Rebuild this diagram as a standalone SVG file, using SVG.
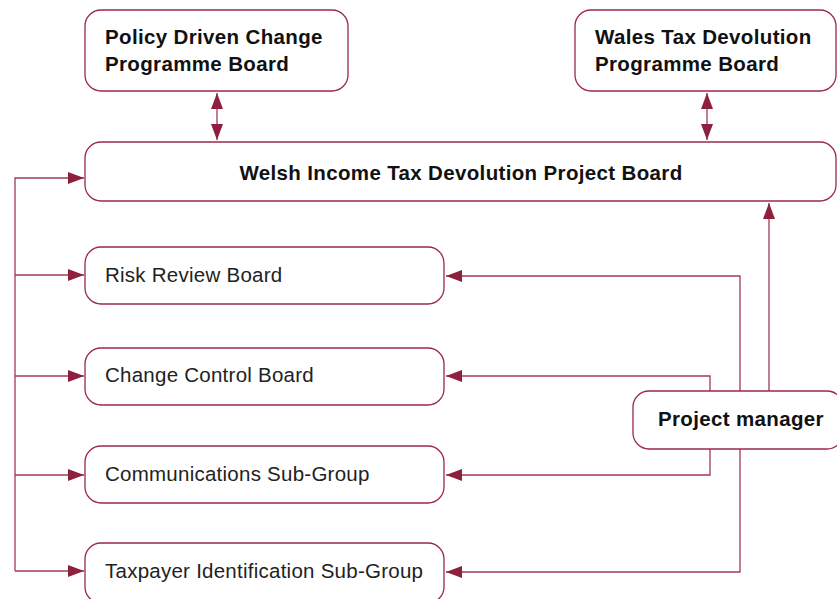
<svg xmlns="http://www.w3.org/2000/svg" width="837" height="599" viewBox="0 0 837 599">
<style>
.box{fill:#fff;stroke:#9a2a48;stroke-width:1.3}
.ln{fill:none;stroke:#a23a56;stroke-width:1.3}
.b{font-family:"Liberation Sans",Arial,sans-serif;font-weight:bold;font-size:20.5px;letter-spacing:0.35px;fill:#111}
.r{font-family:"Liberation Sans",Arial,sans-serif;font-size:20.5px;letter-spacing:0.25px;fill:#222}
</style>
<defs>
<marker id="ah" viewBox="0 0 16 12" refX="16" refY="6" markerWidth="16" markerHeight="12" markerUnits="userSpaceOnUse" orient="auto-start-reverse">
<path d="M0,0 L16,6 L0,12 Z" fill="#8e1f3f"/>
</marker>
</defs>
<g id="connectors">
<path class="ln" d="M217,93 V140" marker-start="url(#ah)" marker-end="url(#ah)"/>
<path class="ln" d="M707,93 V140" marker-start="url(#ah)" marker-end="url(#ah)"/>
<path class="ln" d="M15,571 V178 H84" marker-end="url(#ah)"/>
<path class="ln" d="M15,275 H84" marker-end="url(#ah)"/>
<path class="ln" d="M15,376 H84" marker-end="url(#ah)"/>
<path class="ln" d="M15,475 H84" marker-end="url(#ah)"/>
<path class="ln" d="M15,571 H84" marker-end="url(#ah)"/>
<path class="ln" d="M769,392 V203" marker-end="url(#ah)"/>
<path class="ln" d="M740,420 V276 H446" marker-end="url(#ah)"/>
<path class="ln" d="M740,420 V572 H446" marker-end="url(#ah)"/>
<path class="ln" d="M710,420 V376 H446" marker-end="url(#ah)"/>
<path class="ln" d="M710,420 V475 H446" marker-end="url(#ah)"/>
</g>
<g id="policy">
<rect class="box" x="85" y="10" width="263" height="81" rx="16"/>
<text class="b" x="105" y="44">Policy Driven Change</text>
<text class="b" x="105" y="71">Programme Board</text>
</g>
<g id="wales">
<rect class="box" x="575" y="10" width="261" height="81" rx="16"/>
<text class="b" x="595" y="44">Wales Tax Devolution</text>
<text class="b" x="595" y="71">Programme Board</text>
</g>
<g id="project-board">
<rect class="box" x="85" y="142" width="751" height="59" rx="16"/>
<text class="b" x="461" y="180" text-anchor="middle">Welsh Income Tax Devolution Project Board</text>
</g>
<g id="risk">
<rect class="box" x="85" y="247" width="359" height="57" rx="16"/>
<text class="r" x="105" y="282">Risk Review Board</text>
</g>
<g id="change">
<rect class="box" x="85" y="348" width="359" height="57" rx="16"/>
<text class="r" x="105" y="382">Change Control Board</text>
</g>
<g id="comms">
<rect class="box" x="85" y="446" width="359" height="57" rx="16"/>
<text class="r" x="105" y="481">Communications Sub-Group</text>
</g>
<g id="taxpayer">
<rect class="box" x="85" y="543" width="359" height="60" rx="16"/>
<text class="r" x="105" y="578">Taxpayer Identification Sub-Group</text>
</g>
<g id="project-manager">
<rect class="box" x="633" y="391" width="210" height="58" rx="16"/>
<text class="b" x="658" y="426">Project manager</text>
</g>
</svg>
